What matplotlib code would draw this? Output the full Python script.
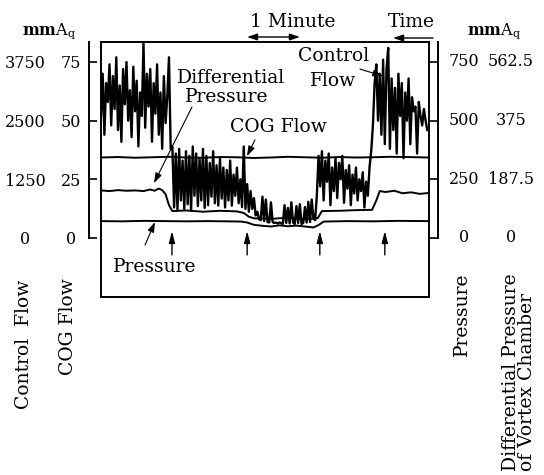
import numpy as np
import matplotlib
matplotlib.use('Agg')
import matplotlib.pyplot as plt
from matplotlib.transforms import blended_transform_factory

plt.rcParams['font.family'] = 'DejaVu Serif'
plt.rcParams['mathtext.fontset'] = 'dejavuserif'

# control flow trace, sampled every 2 s (left outer scale, 0-3750)
cf_step = 2
control_flow = [
    2600, 3500, 2200, 3300, 2900, 3700, 2400, 3450, 2750, 3850, 2300, 3250, 2050, 3600,
    2850, 3750, 2500, 3150, 2150, 3650, 2700, 3350, 1950, 3100, 2600, 4150, 2350, 3500,
    2800, 3600, 2050, 3300, 2650, 3700, 2200, 3100, 1900, 3450, 2450, 3000, 3850, 1900,
    1950, 650, 1800, 600, 1900, 800, 1650, 620, 1850, 720, 1750, 580, 1950, 900, 1800,
    680, 1700, 800, 1900, 640, 1750, 700, 1600, 880, 1850, 740, 1550, 690, 1700, 840,
    1500, 650, 1450, 800, 1650, 690, 1350, 900, 1500, 740, 1250, 660, 1950, 620, 1150, 560,
    1000, 620, 850, 480, 560, 400, 380, 880, 360, 820, 340, 330, 760, 340, 320, 330, 310,
    330, 320, 300, 700, 320, 640, 310, 760, 330, 300, 680, 320, 720, 300, 320, 660, 330,
    770, 340, 820, 420, 380,
    900, 1750, 1100, 1850, 800, 1650, 1200, 1800, 700, 1500, 1000, 1700, 850, 1600, 1250,
    1750, 750, 1450, 1050, 1550, 700, 1350, 950, 1500, 800, 1250, 1000, 1400, 650, 1200,
    900, 1500, 1850,
    2400, 3300, 3700, 2500, 3500, 2200, 3800, 2000, 3600, 4050, 1900, 3400, 2300, 3200,
    1800, 3500, 2600, 3300, 1700, 3100, 2500, 3400, 2000, 3000, 2700, 2800, 1800, 2900,
    2600, 2400, 2750, 2500, 2300]

# COG flow (left inner scale, 0-75)
cog_t = [0, 20, 40, 60, 80, 100, 120, 140, 160, 180, 200, 220, 240, 260, 280, 300, 320, 340, 360, 386]
cog_flow = [34.3, 34.5, 34.2, 34.4, 34.6, 34.3, 34.2, 34.5, 34.4, 34.1, 34.3, 34.6, 34.4, 34.2,
            34.5, 34.3, 34.4, 34.6, 34.5, 34.3]

# pressure, mmAq (right inner scale, 0-750)
pres_t = [0, 25, 50, 75, 100, 125, 150, 165, 172, 180, 190, 200, 210, 220, 230, 240, 250, 256,
          262, 290, 320, 350, 386]
pressure = [72, 71, 73, 72, 71, 72, 71, 70, 66, 56, 52, 49, 54, 50, 53, 49, 45, 55, 70, 72, 71, 73, 72]

# differential pressure of vortex chamber, mmAq (right outer scale, 0-562.5)
diff_t = [0, 10, 20, 30, 40, 50, 58, 63, 68, 72, 76, 80, 84, 100, 120, 140, 160, 168, 174, 180,
          200, 220, 240, 255, 260, 280, 300, 319, 324, 328, 335, 345, 355, 365, 375, 386]
diff_pressure = [152, 150, 153, 151, 152, 150, 155, 151, 158, 153, 140, 105, 86, 88, 84, 87, 85, 80,
                 68, 63, 61, 65, 60, 63, 86, 87, 89, 90, 120, 150, 147, 151, 143, 146, 141, 144]

# times marked with small arrows under the traces
event_times = [83.5, 172, 257.5, 334]

cf_ticks = [0, 1250, 2500, 3750]
cog_ticks = [0, 25, 50, 75]
pres_ticks = [0, 250, 500, 750]
diff_ticks = [0, 187.5, 375, 562.5]

W, H = 544, 475
def fx(px):
    return px / W
def fy(py):
    return 1 - py / H

PXU = 176 / 75.0          # pixels per COG unit
YBOT = -(297 - 238) / PXU
YTOP = (238 - 42) / PXU
TMAX = 386

fig = plt.figure(figsize=(5.44, 4.75), dpi=100)
ax = fig.add_axes([fx(101), fy(297), 328 / W, 255 / H])
ax.set_xlim(0, TMAX)
ax.set_ylim(YBOT, YTOP)
ax.set_xticks([])
ax.set_yticks([])
for s in ax.spines.values():
    s.set_linewidth(1.4)

def twin(scale):
    a = ax.twinx()
    a.set_ylim(YBOT * scale, YTOP * scale)
    a.axis('off')
    return a

ax_cf = twin(3750 / 75)
ax_p = twin(750 / 75)
ax_d = twin(562.5 / 75)

t_cf = np.arange(len(control_flow)) * cf_step
ax_cf.plot(t_cf, control_flow, color='black', lw=1.7)
ax.plot(cog_t, cog_flow, color='black', lw=1.4)
ax_p.plot(pres_t, pressure, color='black', lw=1.4)
ax_d.plot(diff_t, diff_pressure, color='black', lw=1.4)

# event arrows
for te in event_times:
    ax.annotate('', xy=(te, 3.0), xytext=(te, -7.2),
                arrowprops=dict(arrowstyle='-|>,head_length=0.7,head_width=0.18',
                                color='black', lw=1.0, shrinkA=0, shrinkB=0))

# left scale
ax_l = fig.add_axes([fx(89), fy(238), 0.02, 196 / H])
ax_l.set_ylim(0, YTOP)
ax_l.patch.set_visible(False)
for k in ['top', 'right', 'bottom']:
    ax_l.spines[k].set_visible(False)
ax_l.spines['left'].set_linewidth(1.4)
ax_l.set_xticks([])
ax_l.set_yticks(cog_ticks)
ax_l.tick_params(axis='y', direction='in', length=6, width=1.2, labelleft=False)

# right scale
ax_r = fig.add_axes([fx(438) - 0.02, fy(238), 0.02, 196 / H])
ax_r.set_ylim(0, YTOP * 10)
ax_r.patch.set_visible(False)
for k in ['top', 'left', 'bottom']:
    ax_r.spines[k].set_visible(False)
ax_r.spines['right'].set_linewidth(1.4)
ax_r.set_xticks([])
ax_r.yaxis.tick_right()
ax_r.set_yticks(pres_ticks)
ax_r.tick_params(axis='y', direction='in', length=6, width=1.2, labelright=False)

fs = 11.5   # numbers
ws = 13.5   # words
def col_labels(axis, ticks, xpx, va):
    tr = blended_transform_factory(fig.transFigure, axis.transData)
    for v in ticks:
        axis.text(fx(xpx), v, '%g' % v, transform=tr, ha='center', va=va, fontsize=fs)

col_labels(ax_cf, cf_ticks, 25, 'center_baseline')
col_labels(ax, cog_ticks, 71, 'center_baseline')
col_labels(ax_p, pres_ticks, 464, 'center')
col_labels(ax_d, diff_ticks, 511, 'center')

unit = r'$\mathbf{mm}\mathrm{A}_{\mathrm{q}}$'
fig.text(fx(22), fy(31), unit, fontsize=11.5, ha='left', va='center')
fig.text(fx(467), fy(31), unit, fontsize=11.5, ha='left', va='center')

# axis titles
fig.text(fx(24), fy(280), 'Control  Flow', rotation=90, ha='center', va='top', fontsize=ws)
fig.text(fx(68), fy(278), 'COG Flow', rotation=90, ha='center', va='top', fontsize=ws)
fig.text(fx(462), fy(272), 'Pressure', rotation=90, ha='center', va='top', fontsize=ws)
fig.text(fx(519), fy(471), 'Differential Pressure\nof Vortex Chamber', rotation=90,
         ha='center', va='bottom', multialignment='left', linespacing=0.82, fontsize=ws)

# labels inside the box
fig.text(fx(177), fy(78), 'Differential', ha='left', va='center', fontsize=ws)
fig.text(fx(185), fy(97), 'Pressure', ha='left', va='center', fontsize=ws)
fig.text(fx(230), fy(127), 'COG Flow', ha='left', va='center', fontsize=ws)
fig.text(fx(298), fy(56), 'Control', ha='left', va='center', fontsize=ws)
fig.text(fx(310), fy(81), 'Flow', ha='left', va='center', fontsize=ws)
fig.text(fx(113), fy(267), 'Pressure', ha='left', va='center', fontsize=ws)

lead = dict(arrowstyle='-|>,head_length=0.6,head_width=0.2', color='black', lw=0.8,
            shrinkA=0, shrinkB=0)
ax.annotate('', xy=(331.8, 69.0), xytext=(304.7, 72.0), arrowprops=lead)
ax.annotate('', xy=(62.4, 23.4), xytext=(107, 55.8), arrowprops=lead)
ax.annotate('', xy=(171.8, 34.9), xytext=(181.2, 41.8), arrowprops=lead)
ax.annotate('', xy=(63.5, 6.8), xytext=(51.8, -3.0), arrowprops=lead)

# time scale above the box
fig.text(fx(250), fy(22), '1 Minute', ha='left', va='center', fontsize=ws)
fig.text(fx(388), fy(22), 'Time', ha='left', va='center', fontsize=ws)
arr = dict(arrowstyle='<|-|>,head_length=0.6,head_width=0.2', color='black', lw=1.0,
           shrinkA=0, shrinkB=0)
ax.annotate('', xy=(fx(247), fy(37)), xytext=(fx(300), fy(37)), xycoords='figure fraction',
            textcoords='figure fraction', arrowprops=arr, annotation_clip=False)
ax.annotate('', xy=(fx(393), fy(38)), xytext=(fx(433), fy(38)), xycoords='figure fraction',
            textcoords='figure fraction', annotation_clip=False,
            arrowprops=dict(arrowstyle='-|>,head_length=0.6,head_width=0.2', color='black',
                            lw=1.0, shrinkA=0, shrinkB=0))

fig.savefig('out.png', dpi=100)
